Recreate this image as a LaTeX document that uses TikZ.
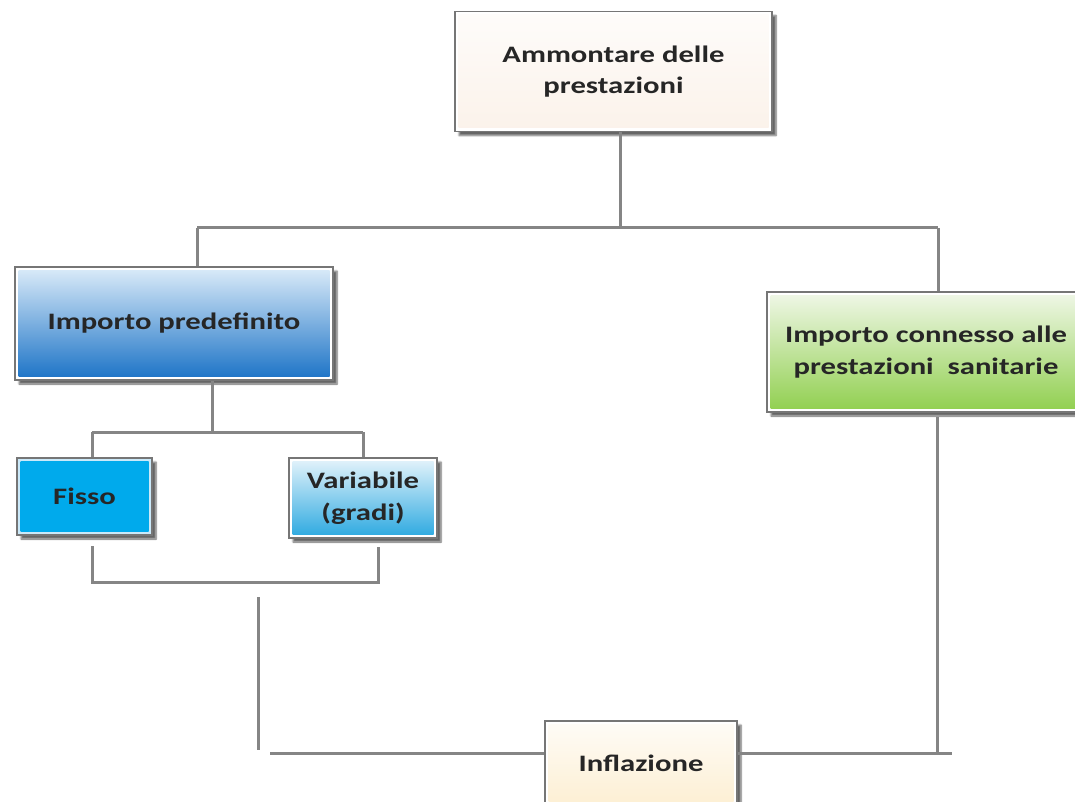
\documentclass[tikz,border=0pt]{standalone}
\usepackage{fontspec}
\newfontfamily\boxfont{Carlito}[FakeStretch=1.3]
\usetikzlibrary{shadows.blur,calc}
\definecolor{linegray}{HTML}{858585}
\definecolor{framegray}{HTML}{767676}
\definecolor{txt}{HTML}{262626}
\definecolor{creamT}{HTML}{FEFCFA}
\definecolor{creamB}{HTML}{FBF2EA}
\definecolor{blueT}{HTML}{DCECF9}
\definecolor{blueB}{HTML}{1A72C6}
\definecolor{greenT}{HTML}{F0F7E8}
\definecolor{greenB}{HTML}{90CF4E}
\definecolor{cyanIn}{HTML}{00AAEC}
\definecolor{cyanFr}{HTML}{CBE9F9}
\definecolor{varT}{HTML}{E6F4FB}
\definecolor{varB}{HTML}{2AA8E0}
\definecolor{inflT}{HTML}{FEFCF7}
\definecolor{inflB}{HTML}{FDEFD3}
\tikzset{
  boxnode/.style n args={3}{draw=framegray, line width=1.6pt, fill=#3,
    rectangle, inner sep=0pt, align=center, text=txt,
    font=\boxfont\bfseries\fontsize{23.6}{31.5}\selectfont,
    blur shadow={shadow xshift=4pt, shadow yshift=-4pt, shadow blur steps=6, shadow opacity=60},
    path picture={\shade[top color=#1, bottom color=#2]
      ([shift={(3.5pt,3.5pt)}]path picture bounding box.south west) rectangle
      ([shift={(-3.5pt,-3.5pt)}]path picture bounding box.north east);}},
  conn/.style={draw=linegray, line width=3pt}
}
\begin{document}
\begin{tikzpicture}[x=1pt,y=-1pt]
\useasboundingbox (0,0) rectangle (1075,802);
\clip (0,0) rectangle (1075,802);

\node[boxnode={creamT}{creamB}{white}, minimum width=317pt, minimum height=120pt] (top) at (613.5,71.5) {Ammontare delle\\prestazioni};
\node[boxnode={blueT}{blueB}{white}, minimum width=318pt, minimum height=113pt] (blue) at (174,323.5) {Importo predefinito};
\node[boxnode={greenT}{greenB}{white}, minimum width=318pt, minimum height=120pt] (green) at (926,352) {Importo connesso alle\\prestazioni\ \ sanitarie};
\node[boxnode={cyanIn}{cyanIn}{cyanFr}, minimum width=135pt, minimum height=77pt] (fisso) at (84.5,496.5) {Fisso};
\node[boxnode={varT}{varB}{white}, minimum width=148pt, minimum height=80pt] (var) at (363,498) {Variabile\\(gradi)};
\node[boxnode={inflT}{inflB}{white}, minimum width=192pt, minimum height=84pt] (infl) at (641,763) {Inflazione};

% coordinates
\coordinate (j1) at (620,228);
\coordinate (hl) at (197,228);
\coordinate (hr) at (938,228);
\coordinate (j2) at (212,432);
\coordinate (fl) at (92,432);
\coordinate (fr) at (363,432);
\coordinate (b1) at (92,546);
\coordinate (b2) at (92,582);
\coordinate (b3) at (378,582);
\coordinate (b4) at (378,547);
\coordinate (v1) at (258,597);
\coordinate (v2) at (258,750);
\coordinate (h1) at (270,753);
\coordinate (r1) at (952,753);
\coordinate (g1) at (937,417);
\coordinate (g2) at (937,753);

% connectors
\draw[conn] (j1 |- top.south) -- (j1);
\draw[conn] (hl) -- (hr);
\draw[conn] (hl) -- (hl |- blue.north);
\draw[conn] (hr) -- (hr |- green.north);
\draw[conn] (j2 |- blue.south) -- (j2);
\draw[conn] (fl) -- (fr);
\draw[conn] (fl) -- (fl |- fisso.north);
\draw[conn] (fr) -- (fr |- var.north);
\draw[conn] (b1) -- (b2) -- (b3) -- (b4);
\draw[conn] (v1) -- (v2);
\draw[conn] (h1) -- (h1 -| infl.west);
\draw[conn] (r1 -| infl.east) -- (r1);
\draw[conn] (g1) -- (g2);
\end{tikzpicture}
\end{document}
